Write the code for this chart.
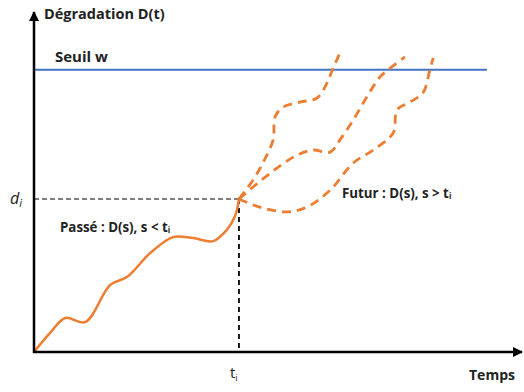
<!DOCTYPE html>
<html>
<head>
<meta charset="utf-8">
<script src="https://cdn.jsdelivr.net/npm/d3@7"></script>
<style>
  body { margin: 0; background: #fff; }
  text { font-family: "Open Sans", "Noto Sans", sans-serif; }
</style>
</head>
<body>
<svg id="chart"></svg>
<script>
const size = { width: 524, height: 392 };
const margin = { left: 34, right: 2, top: 12, bottom: 40 };

const ORANGE = "#ed7d31";
const BLUE = "#4472c4";

// time / degradation, arbitrary units
const ti = 42;
const di = 45;
const seuilW = 83;

const passe = [
  [0, 0], [3.3, 5.6], [6.4, 10], [10.5, 8.8], [15.6, 19.7], [19.1, 22.1],
  [23.8, 29.1], [28.5, 33.8], [32.6, 33.5], [36.7, 32.6], [39.5, 35.9],
  [41.2, 40], [42, 45]
];

const futur1 = [
  [42, 45], [44.9, 50.6], [46.9, 55.6], [49, 62.4], [49.4, 69.1], [51, 72],
  [54.5, 73.5], [58, 74.7], [60, 79], [61.3, 83.5], [62.7, 88]
];
const futur2 = [
  [42, 45], [48.4, 52.6], [53.9, 57.9], [57.2, 59.4], [60.7, 58.8],
  [62.7, 62.4], [65.4, 68.2], [68.2, 75], [70.9, 80.9], [73, 83.5], [76, 86.8]
];
const futur3 = [
  [42, 45], [46.3, 42.6], [51.8, 41.2], [55.9, 42.6], [60.7, 47.6],
  [65.4, 55.6], [69.5, 59.4], [73.6, 64.4], [74.4, 71.2], [77, 73.5],
  [79.7, 76.2], [81.1, 82.9], [81.8, 86.5]
];
const futurs = [futur1, futur2, futur3];

const svg = d3
  .select("#chart")
  .attr("width", size.width)
  .attr("height", size.height);

const x = d3
  .scaleLinear()
  .domain([0, 100])
  .range([margin.left, size.width - margin.right]);

const y = d3
  .scaleLinear()
  .domain([0, 100])
  .range([size.height - margin.bottom, margin.top]);

svg
  .append("defs")
  .append("marker")
  .attr("id", "arrow")
  .attr("viewBox", "0 0 10 10")
  .attr("refX", 9)
  .attr("refY", 5)
  .attr("markerWidth", 4)
  .attr("markerHeight", 4)
  .attr("orient", "auto")
  .append("path")
  .attr("d", "M 0 0 L 10 5 L 0 10 z")
  .attr("fill", "black");

// seuil w
svg
  .append("line")
  .attr("x1", x(0))
  .attr("x2", x(92.8))
  .attr("y1", y(seuilW))
  .attr("y2", y(seuilW))
  .attr("stroke", BLUE)
  .attr("stroke-width", 2);

// dashed guides
svg
  .append("line")
  .attr("x1", x(0))
  .attr("x2", x(ti))
  .attr("y1", y(di))
  .attr("y2", y(di))
  .attr("stroke", "black")
  .attr("stroke-width", 1)
  .attr("stroke-dasharray", "5,3");

svg
  .append("line")
  .attr("x1", x(ti))
  .attr("x2", x(ti))
  .attr("y1", y(di))
  .attr("y2", y(0))
  .attr("stroke", "black")
  .attr("stroke-width", 1.8)
  .attr("stroke-dasharray", "5,4");

const line = d3
  .line()
  .x((d) => x(d[0]))
  .y((d) => y(d[1]))
  .curve(d3.curveCatmullRom.alpha(0.5));

svg
  .append("path")
  .attr("d", line(passe))
  .attr("fill", "none")
  .attr("stroke", ORANGE)
  .attr("stroke-width", 2.5);

svg
  .append("g")
  .attr("fill", "none")
  .attr("stroke", ORANGE)
  .attr("stroke-width", 2.8)
  .attr("stroke-dasharray", "9,6")
  .selectAll("path")
  .data(futurs)
  .enter()
  .append("path")
  .attr("d", line);

// axes
svg
  .append("line")
  .attr("x1", x(0))
  .attr("x2", x(0))
  .attr("y1", y(0) + 1)
  .attr("y2", y(100))
  .attr("stroke", "black")
  .attr("stroke-width", 2.5)
  .attr("marker-end", "url(#arrow)");

svg
  .append("line")
  .attr("x1", x(0) - 1)
  .attr("x2", x(100))
  .attr("y1", y(0))
  .attr("y2", y(0))
  .attr("stroke", "black")
  .attr("stroke-width", 2.5)
  .attr("marker-end", "url(#arrow)");

// labels
svg
  .append("text")
  .text("Dégradation D(t)")
  .attr("x", 44)
  .attr("y", 19)
  .attr("font-size", 14.5)
  .attr("font-weight", "bold")
  .attr("fill", "#222");

svg
  .append("text")
  .text("Seuil w")
  .attr("x", 55)
  .attr("y", y(seuilW) - 8)
  .attr("font-size", 15)
  .attr("font-weight", "bold")
  .attr("fill", "#222");

svg
  .append("text")
  .text("Temps")
  .attr("x", 469)
  .attr("y", 380)
  .attr("font-size", 14)
  .attr("font-weight", "bold")
  .attr("fill", "#222");

const ti_lbl = svg
  .append("text")
  .attr("x", x(ti) - 9)
  .attr("y", 378)
  .attr("font-size", 15)
  .attr("fill", "#222");
ti_lbl.append("tspan").text("t");
ti_lbl.append("tspan").text("i").attr("font-size", 9).attr("dy", 3);

const di_lbl = svg
  .append("text")
  .attr("x", 10)
  .attr("y", y(di) + 5)
  .attr("font-family", "'DejaVu Serif', serif")
  .attr("font-style", "italic")
  .attr("font-size", 16)
  .attr("fill", "#222");
di_lbl.append("tspan").text("d");
di_lbl.append("tspan").text("i").attr("font-size", 11).attr("dy", 3);

function annot(txt, px, py) {
  const t = svg
    .append("text")
    .attr("x", px)
    .attr("y", py)
    .attr("font-size", 13.3)
    .attr("font-weight", "bold")
    .attr("fill", "#222");
  t.append("tspan").text(txt);
  t.append("tspan").text("i").attr("font-size", 8).attr("dy", 1);
}

annot("Passé : D(s), s < t", 60, 232);
annot("Futur : D(s), s > t", 342, 198);
</script>
</body>
</html>
